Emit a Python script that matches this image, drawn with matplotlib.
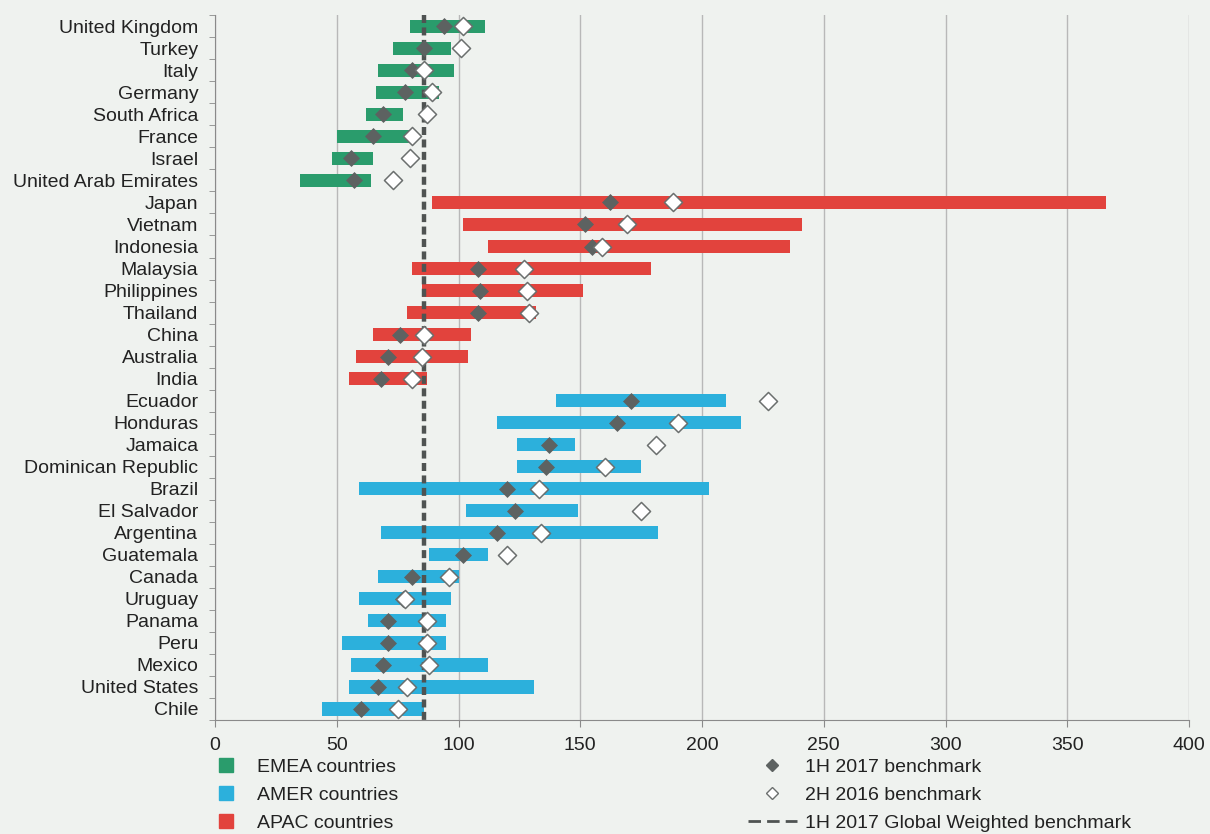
import matplotlib
matplotlib.use("Agg")
import matplotlib.pyplot as plt
from matplotlib.lines import Line2D
import numpy as np

plt.rcParams['font.family'] = ['Liberation Sans', 'DejaVu Sans']

countries = ["United Kingdom", "Turkey", "Italy", "Germany", "South Africa", "France", "Israel",
             "United Arab Emirates", "Japan", "Vietnam", "Indonesia", "Malaysia", "Philippines",
             "Thailand", "China", "Australia", "India", "Ecuador", "Honduras", "Jamaica",
             "Dominican Republic", "Brazil", "El Salvador", "Argentina", "Guatemala", "Canada",
             "Uruguay", "Panama", "Peru", "Mexico", "United States", "Chile"]
regions = ["EMEA"] * 8 + ["APAC"] * 9 + ["AMER"] * 15
range_low = [80, 73, 67, 66, 62, 50, 48, 35, 89, 102, 112, 81, 85, 79, 65, 58, 55,
             140, 116, 124, 124, 59, 103, 68, 88, 67, 59, 63, 52, 56, 55, 44]
range_high = [111, 97, 98, 92, 77, 82, 65, 64, 366, 241, 236, 179, 151, 132, 105, 104, 87,
              210, 216, 148, 175, 203, 149, 182, 112, 100, 97, 95, 95, 112, 131, 86]
bench_1h2017 = [94, 86, 81, 78, 69, 65, 56, 57, 162, 152, 155, 108, 109, 108, 76, 71, 68,
                171, 165, 137, 136, 120, 123, 116, 102, 81, 77, 71, 71, 69, 67, 60]
bench_2h2016 = [102, 101, 86, 89, 87, 81, 80, 73, 188, 169, 159, 127, 128, 129, 86, 85, 81,
                227, 190, 181, 160, 133, 175, 134, 120, 96, 78, 87, 87, 88, 79, 75]
global_benchmark = 86
xticks = [0, 50, 100, 150, 200, 250, 300, 350, 400]

colors = {"EMEA": "#2a9c6c", "AMER": "#2cb0dc", "APAC": "#e2433d"}
bg = "#eff2ef"
FS = 14

fig = plt.figure(figsize=(12.10, 8.34), dpi=100, facecolor=bg)
ax = fig.add_axes([0.1777, 0.1367, 0.805, 0.845], facecolor=bg)

n = len(countries)
y = np.arange(n)
for i in range(n):
    ax.barh(y[i], range_high[i] - range_low[i], left=range_low[i], height=0.6,
            color=colors[regions[i]], zorder=2)
ax.plot([global_benchmark, global_benchmark], [-0.5, n - 0.5], color="#4f5352",
        lw=3.2, ls=(0, (1.8, 1.0)), zorder=3)
ax.scatter(bench_1h2017, y, marker="D", s=75, color="#5d6261", zorder=4, linewidths=0)
ax.scatter(bench_2h2016, y, marker="D", s=85, facecolor="white", edgecolor="#6b6f6e",
           linewidths=1.1, zorder=5)

ax.set_ylim(n - 0.5, -0.5)
ax.set_xlim(0, 400)
ax.set_yticks(y)
ax.set_yticklabels(countries, fontsize=FS, color="#222222")
ax.set_yticks(np.arange(n + 1) - 0.5, minor=True)
ax.tick_params(axis="y", which="major", length=0, pad=12)
ax.tick_params(axis="y", which="minor", length=4, color="#8a8a8a")
ax.set_xticks(xticks)
ax.set_xticklabels([str(v) for v in xticks], fontsize=FS, color="#222222")
ax.tick_params(axis="x", length=5, color="#8a8a8a", pad=7)
ax.grid(axis="x", color="#b8b8b8", lw=1.0, zorder=0)
for s in ["top", "right"]:
    ax.spines[s].set_visible(False)
ax.spines["left"].set_color("#8a8a8a")
ax.spines["bottom"].set_color("#8a8a8a")

h_left = [Line2D([], [], marker="s", ls="none", markersize=10, color=colors[r]) for r in ["EMEA", "AMER", "APAC"]]
lab_left = ["EMEA countries", "AMER countries", "APAC countries"]
leg1 = fig.legend(h_left, lab_left, loc="upper left", bbox_to_anchor=(0.179, 0.0905),
                  frameon=False, fontsize=FS, labelspacing=0.53, handlelength=1.0,
                  handletextpad=1.09, borderaxespad=0, borderpad=0)
for t in leg1.get_texts():
    t.set_color("#222222")
h_right = [Line2D([], [], marker="D", ls="none", markersize=6, color="#5d6261"),
           Line2D([], [], marker="D", ls="none", markersize=6, markerfacecolor="white",
                  markeredgecolor="#6b6f6e"),
           Line2D([], [], color="#4f5352", lw=2, ls=(0, (4.5, 2.2)))]
lab_right = ["1H 2017 benchmark", "2H 2016 benchmark", "1H 2017 Global Weighted benchmark"]
leg2 = fig.legend(h_right, lab_right, loc="upper left", bbox_to_anchor=(0.618, 0.0905),
                  frameon=False, fontsize=FS, labelspacing=0.53, handlelength=2.52,
                  handletextpad=0.41, borderaxespad=0, borderpad=0)
for t in leg2.get_texts():
    t.set_color("#222222")

fig.savefig("out.png", dpi=100, facecolor=bg)
